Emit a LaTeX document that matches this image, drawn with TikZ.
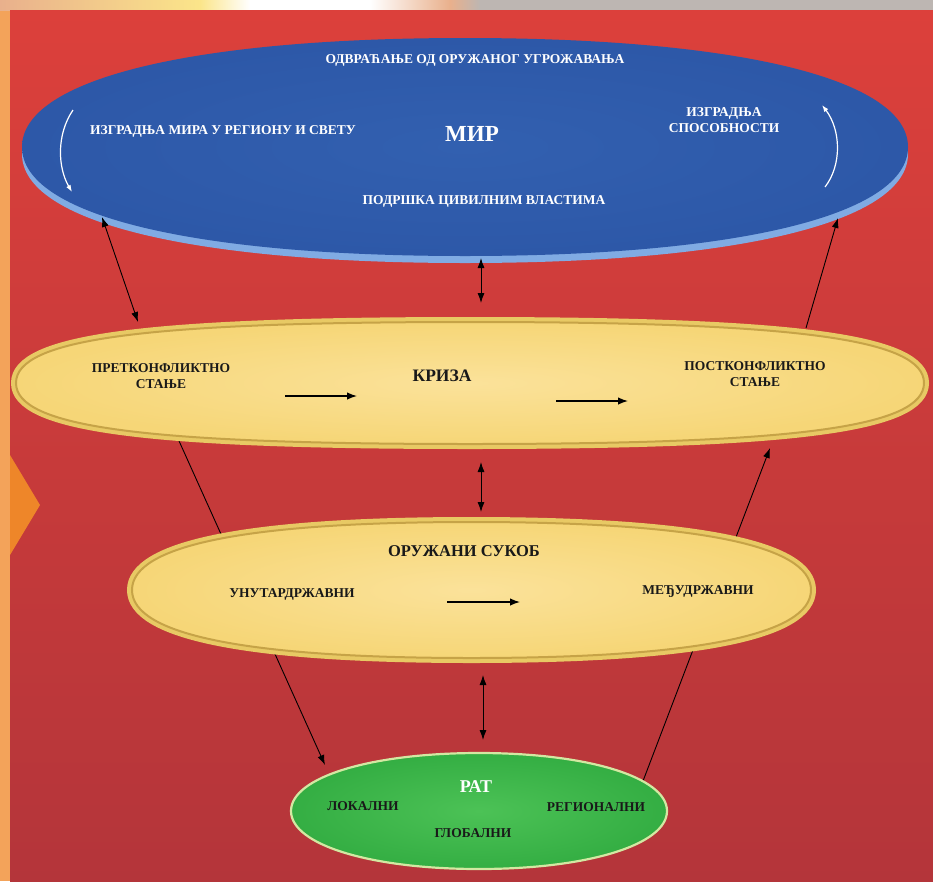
\documentclass[tikz,border=0pt]{standalone}
\usepackage{fontspec}
\setmainfont{Liberation Serif}
\usetikzlibrary{arrows.meta}

\definecolor{redTop}{HTML}{DC403B}
\definecolor{redBottom}{HTML}{B4353A}
\definecolor{photoOrange}{HTML}{F3A35A}
\definecolor{photoPeach}{HTML}{E9B08C}
\definecolor{photoYellow}{HTML}{FBE58A}
\definecolor{photoGray}{HTML}{BDB6B2}
\definecolor{chevronOrange}{HTML}{EE8629}
\definecolor{mirBlue}{HTML}{3260B0}
\definecolor{mirBlueDark}{HTML}{2D58A8}
\definecolor{mirRim}{HTML}{80ABE3}
\definecolor{goldLight}{HTML}{FBE29A}
\definecolor{goldMid}{HTML}{F6D677}
\definecolor{goldRim}{HTML}{E8C964}
\definecolor{goldDark}{HTML}{C6A347}
\definecolor{ratGreen}{HTML}{34AE43}
\definecolor{ratGreenLight}{HTML}{4CC256}
\definecolor{ratRim}{HTML}{D3E8A2}

\pgfdeclarelayer{bg}
\pgfdeclarelayer{lines}
\pgfsetlayers{bg,lines,main}

% #1 style, #2 #3 centre, #4 #5 half axes, #6 roundness
\newcommand{\blob}[6]{\path[#1] (#2-#4,#3)
    .. controls (#2-#4,#3-#6*#5) and (#2-#6*#4,#3-#5) .. (#2,#3-#5)
    .. controls (#2+#6*#4,#3-#5) and (#2+#4,#3-#6*#5) .. (#2+#4,#3)
    .. controls (#2+#4,#3+#6*#5) and (#2+#6*#4,#3+#5) .. (#2,#3+#5)
    .. controls (#2-#6*#4,#3+#5) and (#2-#4,#3+#6*#5) .. (#2-#4,#3) -- cycle;}

\tikzstyle{mirShape} = [inner color=mirBlue, outer color=mirBlueDark]
\tikzstyle{mirShadow} = [fill=mirRim, shift={(0,7)}]
\tikzstyle{goldShape} = [draw=goldDark, line width=2pt,
    inner color=goldLight, outer color=goldMid,
    preaction={draw=goldRim, line width=10pt}]
\tikzstyle{ratShape} = [draw=ratRim, line width=2.2pt,
    inner color=ratGreenLight, outer color=ratGreen]
\tikzstyle{lightText} = [text=white, inner sep=0pt, align=center,
    font=\bfseries\fontsize{13.5}{16}\selectfont]
\tikzstyle{darkText} = [text=black!90, inner sep=0pt, align=center,
    font=\bfseries\fontsize{13.5}{16}\selectfont]
\tikzstyle{link} = [black, line width=0.9pt, >={Latex[length=10pt,width=7pt]}]
\tikzstyle{flow} = [black, line width=1.4pt, -{Latex[length=10pt,width=7.5pt]}]
\tikzstyle{loop} = [white, line width=1.2pt, -{Latex[length=7pt,width=5pt]}]

\begin{document}
\begin{tikzpicture}[x=1pt,y=-1pt]
\useasboundingbox (0,0) rectangle (933,881);

\begin{pgfonlayer}{bg}
\fill[photoOrange] (0,0) rectangle (933,881);
\shade[left color=photoPeach, right color=photoYellow] (0,0) rectangle (200,10);
\shade[left color=photoYellow, right color=white] (200,0) rectangle (250,10);
\fill[white] (250,0) rectangle (370,10);
\shade[left color=white, right color=photoPeach] (370,0) rectangle (450,10);
\shade[left color=photoPeach, right color=photoGray] (450,0) rectangle (480,10);
\fill[photoGray] (480,0) rectangle (933,10);
\shade[top color=redTop, bottom color=redBottom] (10,10) rectangle (933,881);
\fill[chevronOrange] (10,455) -- (40,505) -- (10,555) -- cycle;
\end{pgfonlayer}

\coordinate (Mir) at (465,147);
\coordinate (Kriza) at (470,383);
\coordinate (Sukob) at (471.5,590);
\coordinate (Rat) at (479,811);

\blob{mirShadow}{465}{147}{443}{109}{0.62}
\blob{mirShape}{465}{147}{443}{109}{0.62}
\blob{goldShape}{470}{383}{454}{61}{0.72}
\blob{goldShape}{471.5}{590}{339.5}{68}{0.66}
\blob{ratShape}{479}{811}{188}{58}{0.58}

\node[lightText] (Odvracanje) at (475,60) [] {ОДВРАЋАЊЕ ОД ОРУЖАНОГ УГРОЖАВАЊА};
\node[lightText] (IzgradnjaMira) at (223,131) [] {ИЗГРАДЊА МИРА У РЕГИОНУ И СВЕТУ};
\node[lightText, font=\bfseries\fontsize{23}{25}\selectfont] (MirTitle) at (472,134) [] {МИР};
\node[lightText] (Sposobnosti) at (724,120) [] {ИЗГРАДЊА\\СПОСОБНОСТИ};
\node[lightText] (Podrska) at (484,201) [] {ПОДРШКА ЦИВИЛНИМ ВЛАСТИМА};
\coordinate (LoopLeftA) at (73,110);
\coordinate (LoopLeftB) at (72,192);
\coordinate (LoopRightA) at (825,187);
\coordinate (LoopRightB) at (822,105);

\node[darkText] (Pre) at (161,376) [] {ПРЕТКОНФЛИКТНО\\СТАЊЕ};
\node[darkText, font=\bfseries\fontsize{17.5}{19}\selectfont] (KrizaTitle) at (442,376) [] {КРИЗА};
\node[darkText] (Post) at (755,374) [] {ПОСТКОНФЛИКТНО\\СТАЊЕ};
\coordinate (FlowA) at (285,396);
\coordinate (FlowB) at (357,396);
\coordinate (FlowC) at (556,401);
\coordinate (FlowD) at (628,401);

\node[darkText, font=\bfseries\fontsize{16.5}{18}\selectfont] (SukobTitle) at (464,551) [] {ОРУЖАНИ СУКОБ};
\node[darkText] (Unutar) at (292,594) [] {УНУТАРДРЖАВНИ};
\node[darkText] (Medju) at (698,592) [] {МЕЂУДРЖАВНИ};
\coordinate (FlowE) at (447,602);
\coordinate (FlowF) at (520,602);

\node[lightText, font=\bfseries\fontsize{18}{20}\selectfont] (RatTitle) at (476,787) [] {РАТ};
\node[darkText] (Lokalni) at (363,806) [] {ЛОКАЛНИ};
\node[darkText] (Regionalni) at (596,807) [] {РЕГИОНАЛНИ};
\node[darkText] (Globalni) at (473,833) [] {ГЛОБАЛНИ};

\draw[loop] (LoopLeftA) .. controls (56,135) and (58,168) .. (LoopLeftB);
\draw[loop] (LoopRightA) .. controls (842,165) and (841,130) .. (LoopRightB);
\draw[flow] (FlowA) -- (FlowB);
\draw[flow] (FlowC) -- (FlowD);
\draw[flow] (FlowE) -- (FlowF);

\draw[link, <->] ([shift={(-363,70)}]Mir) -- ([shift={(-332,-61)}]Kriza);
\draw[link, <->] ([shift={(16,111)}]Mir) -- ([shift={(11,-80)}]Kriza);
\draw[link, ->] ([shift={(336,-55)}]Kriza) -- ([shift={(373,71)}]Mir);
\draw[link, <->] ([shift={(11,79)}]Kriza) -- ([shift={(9.5,-78)}]Sukob);
\draw[link, <->] ([shift={(11.5,85)}]Sukob) -- ([shift={(4,-71)}]Rat);
\begin{pgfonlayer}{lines}
\draw[link, ->] ([shift={(-295,49)}]Kriza) -- ([shift={(-154,-46)}]Rat);
\draw[link, ->] ([shift={(164,-30)}]Rat) -- ([shift={(300,65)}]Kriza);
\end{pgfonlayer}
\end{tikzpicture}
\end{document}
